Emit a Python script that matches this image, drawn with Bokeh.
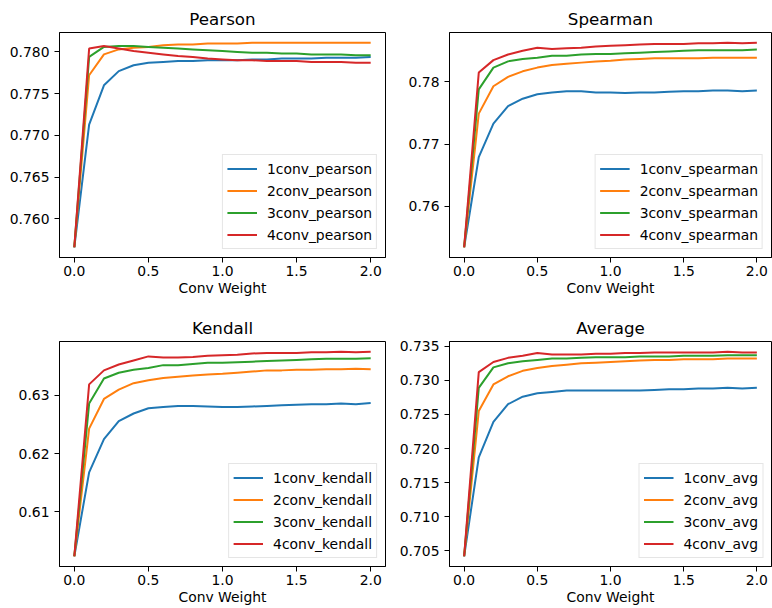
from bokeh.plotting import figure
from bokeh.layouts import gridplot
from bokeh.models import Range1d, FixedTicker, PrintfTickFormatter
from bokeh.embed import file_html
from bokeh.resources import INLINE

x_weight = [0.0, 0.1, 0.2, 0.3, 0.4, 0.5, 0.6, 0.7, 0.8, 0.9, 1.0,
            1.1, 1.2, 1.3, 1.4, 1.5, 1.6, 1.7, 1.8, 1.9, 2.0]

pearson_1 = [0.7566, 0.7713, 0.7760, 0.7777, 0.7784, 0.7787, 0.7788, 0.7789, 0.7789, 0.7790, 0.7790,
             0.7790, 0.7791, 0.7791, 0.7792, 0.7792, 0.7792, 0.7793, 0.7793, 0.7793, 0.7794]
pearson_2 = [0.7566, 0.7772, 0.7797, 0.7803, 0.7805, 0.7806, 0.7808, 0.7809, 0.7809, 0.7810, 0.7810,
             0.7810, 0.7811, 0.7811, 0.7811, 0.7811, 0.7811, 0.7811, 0.7811, 0.7811, 0.7811]
pearson_3 = [0.7566, 0.7794, 0.7806, 0.7807, 0.7807, 0.7806, 0.7805, 0.7804, 0.7803, 0.7802, 0.7801,
             0.7800, 0.7799, 0.7799, 0.7798, 0.7798, 0.7797, 0.7797, 0.7797, 0.7796, 0.7796]
pearson_4 = [0.7566, 0.7804, 0.7807, 0.7804, 0.7801, 0.7799, 0.7797, 0.7795, 0.7794, 0.7792, 0.7791,
             0.7790, 0.7790, 0.7789, 0.7789, 0.7789, 0.7788, 0.7788, 0.7788, 0.7787, 0.7787]

spearman_1 = [0.7534, 0.7679, 0.7733, 0.7761, 0.7773, 0.7780, 0.7783, 0.7785, 0.7785, 0.7783, 0.7783,
              0.7782, 0.7783, 0.7783, 0.7784, 0.7785, 0.7785, 0.7786, 0.7786, 0.7785, 0.7786]
spearman_2 = [0.7534, 0.7749, 0.7793, 0.7808, 0.7817, 0.7823, 0.7827, 0.7829, 0.7831, 0.7833, 0.7834,
              0.7836, 0.7837, 0.7838, 0.7838, 0.7838, 0.7838, 0.7839, 0.7839, 0.7839, 0.7839]
spearman_3 = [0.7534, 0.7788, 0.7823, 0.7833, 0.7837, 0.7839, 0.7842, 0.7842, 0.7844, 0.7845, 0.7845,
              0.7846, 0.7847, 0.7848, 0.7849, 0.7850, 0.7851, 0.7851, 0.7851, 0.7851, 0.7852]
spearman_4 = [0.7534, 0.7815, 0.7835, 0.7844, 0.7850, 0.7855, 0.7853, 0.7854, 0.7855, 0.7857, 0.7858,
              0.7859, 0.7860, 0.7861, 0.7861, 0.7861, 0.7862, 0.7862, 0.7863, 0.7862, 0.7863]

kendall_1 = [0.6024, 0.6168, 0.6225, 0.6256, 0.6269, 0.6278, 0.6280, 0.6282, 0.6282, 0.6281, 0.6280,
             0.6280, 0.6281, 0.6282, 0.6283, 0.6284, 0.6285, 0.6285, 0.6286, 0.6285, 0.6287]
kendall_2 = [0.6024, 0.6243, 0.6294, 0.6310, 0.6321, 0.6326, 0.6330, 0.6332, 0.6334, 0.6336, 0.6337,
             0.6339, 0.6341, 0.6343, 0.6343, 0.6344, 0.6344, 0.6345, 0.6345, 0.6346, 0.6345]
kendall_3 = [0.6024, 0.6286, 0.6329, 0.6339, 0.6344, 0.6347, 0.6352, 0.6352, 0.6354, 0.6356, 0.6356,
             0.6357, 0.6358, 0.6359, 0.6360, 0.6361, 0.6362, 0.6363, 0.6363, 0.6363, 0.6364]
kendall_4 = [0.6024, 0.6319, 0.6343, 0.6353, 0.6360, 0.6367, 0.6365, 0.6365, 0.6366, 0.6368, 0.6369,
             0.6370, 0.6372, 0.6373, 0.6373, 0.6373, 0.6374, 0.6374, 0.6375, 0.6374, 0.6375]

avg_1 = [0.7042, 0.7187, 0.7239, 0.7265, 0.7276, 0.7281, 0.7283, 0.7285, 0.7285, 0.7285, 0.7285,
         0.7285, 0.7285, 0.7286, 0.7287, 0.7287, 0.7288, 0.7288, 0.7289, 0.7288, 0.7289]
avg_2 = [0.7042, 0.7255, 0.7294, 0.7306, 0.7314, 0.7318, 0.7321, 0.7323, 0.7325, 0.7326, 0.7327,
         0.7328, 0.7329, 0.7330, 0.7330, 0.7331, 0.7331, 0.7331, 0.7332, 0.7332, 0.7332]
avg_3 = [0.7042, 0.7289, 0.7319, 0.7325, 0.7328, 0.7330, 0.7332, 0.7332, 0.7333, 0.7334, 0.7334,
         0.7334, 0.7335, 0.7335, 0.7335, 0.7336, 0.7336, 0.7336, 0.7337, 0.7337, 0.7337]
avg_4 = [0.7042, 0.7312, 0.7327, 0.7333, 0.7336, 0.7340, 0.7338, 0.7338, 0.7338, 0.7339, 0.7339,
         0.7340, 0.7340, 0.7341, 0.7341, 0.7341, 0.7341, 0.7341, 0.7342, 0.7341, 0.7341]

x_ticks = [0.0, 0.5, 1.0, 1.5, 2.0]
pearson_ticks = [0.760, 0.765, 0.770, 0.775, 0.780]
spearman_ticks = [0.76, 0.77, 0.78]
kendall_ticks = [0.61, 0.62, 0.63]
avg_ticks = [0.705, 0.710, 0.715, 0.720, 0.725, 0.730, 0.735]

colors = ["#1f77b4", "#ff7f0e", "#2ca02c", "#d62728"]
FONT = "DejaVu Sans"


def make_panel(title, series, names, yticks, yfmt, width, height,
               b_left, b_right, b_top, b_bottom):
    lo = min(min(s) for s in series)
    hi = max(max(s) for s in series)
    pad = (hi - lo) * 0.05
    p = figure(width=width, height=height, output_backend="svg", toolbar_location=None,
               x_range=Range1d(-0.1, 2.1), y_range=Range1d(lo - pad, hi + pad),
               min_border_left=b_left, min_border_right=b_right,
               min_border_top=b_top, min_border_bottom=b_bottom)
    p.title.text = title
    p.title.align = "center"
    p.title.text_font = FONT
    p.title.text_font_size = "16.7px"
    p.title.text_font_style = "normal"
    p.title.text_color = "black"
    p.title.standoff = 7
    p.xgrid.visible = False
    p.ygrid.visible = False
    p.outline_line_color = "black"
    p.outline_line_width = 1
    p.outline_line_alpha = 1
    p.background_fill_color = "white"
    p.border_fill_color = "white"
    for ax in (p.xaxis[0], p.yaxis[0]):
        ax.axis_line_color = "black"
        ax.major_tick_line_color = "black"
        ax.minor_tick_line_color = None
        ax.major_tick_in = 0
        ax.major_tick_out = 5
        ax.major_label_text_font = FONT
        ax.major_label_text_font_size = "13.9px"
        ax.major_label_text_color = "black"
    p.xaxis.major_label_standoff = 3
    p.yaxis.major_label_standoff = 5
    p.xaxis.ticker = FixedTicker(ticks=x_ticks)
    p.xaxis.formatter = PrintfTickFormatter(format="%.1f")
    p.yaxis.ticker = FixedTicker(ticks=yticks)
    p.yaxis.formatter = PrintfTickFormatter(format=yfmt)
    p.xaxis.axis_label = "Conv Weight"
    p.xaxis.axis_label_text_font = FONT
    p.xaxis.axis_label_text_font_size = "13.9px"
    p.xaxis.axis_label_text_font_style = "normal"
    p.xaxis.axis_label_text_color = "black"
    p.xaxis.axis_label_standoff = 1
    for s, name, c in zip(series, names, colors):
        p.line(x_weight, s, line_color=c, line_width=2, legend_label=name)
    lg = p.legend[0]
    lg.location = "bottom_right"
    lg.margin = 8
    lg.padding = 4
    lg.spacing = 3
    lg.label_height = 19
    lg.glyph_height = 19
    lg.glyph_width = 30
    lg.label_standoff = 10
    lg.label_text_font = FONT
    lg.label_text_font_size = "13.9px"
    lg.label_text_color = "black"
    lg.border_line_color = "#cccccc"
    lg.border_line_width = 1
    lg.background_fill_alpha = 0.8
    return p


p1 = make_panel("Pearson", [pearson_1, pearson_2, pearson_3, pearson_4],
                ["1conv_pearson", "2conv_pearson", "3conv_pearson", "4conv_pearson"],
                pearson_ticks, "%.3f", 386, 300, 59, 1, 32, 43)
p2 = make_panel("Spearman", [spearman_1, spearman_2, spearman_3, spearman_4],
                ["1conv_spearman", "2conv_spearman", "3conv_spearman", "4conv_spearman"],
                spearman_ticks, "%.2f", 386, 300, 63, 1, 32, 43)
p3 = make_panel("Kendall", [kendall_1, kendall_2, kendall_3, kendall_4],
                ["1conv_kendall", "2conv_kendall", "3conv_kendall", "4conv_kendall"],
                kendall_ticks, "%.2f", 386, 308, 59, 1, 41, 42)
p4 = make_panel("Average", [avg_1, avg_2, avg_3, avg_4],
                ["1conv_avg", "2conv_avg", "3conv_avg", "4conv_avg"],
                avg_ticks, "%.3f", 386, 308, 63, 1, 41, 42)

grid = gridplot([[p1, p2], [p3, p4]], toolbar_location=None)

open("out.html", "w").write(file_html(grid, INLINE))
